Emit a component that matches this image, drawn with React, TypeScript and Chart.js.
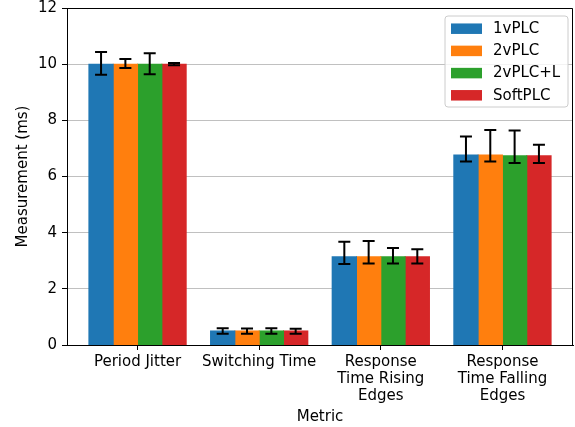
import React, { useEffect, useRef } from "react";
import { Chart, registerables } from "chart.js";

Chart.register(...registerables);

// ---- data ----
const categories: string[][] = [
  ["Period Jitter"],
  ["Switching Time"],
  ["Response", "Time Rising", "Edges"],
  ["Response", "Time Falling", "Edges"],
];
const seriesNames = ["1vPLC", "2vPLC", "2vPLC+L", "SoftPLC"];
const seriesColors = ["#1f77b4", "#ff7f0e", "#2ca02c", "#d62728"];

const values1vPLC = [10.0, 0.5, 3.14, 6.77];
const values2vPLC = [10.0, 0.5, 3.14, 6.77];
const values2vPLCL = [10.0, 0.5, 3.14, 6.74];
const valuesSoftPLC = [10.0, 0.5, 3.14, 6.74];

const errHigh1vPLC = [0.43, 0.1, 0.54, 0.65];
const errLow1vPLC = [0.38, 0.1, 0.26, 0.24];
const errHigh2vPLC = [0.18, 0.09, 0.56, 0.89];
const errLow2vPLC = [0.14, 0.1, 0.24, 0.24];
const errHigh2vPLCL = [0.39, 0.1, 0.31, 0.9];
const errLow2vPLCL = [0.36, 0.1, 0.24, 0.26];
const errHighSoftPLC = [0.04, 0.08, 0.27, 0.39];
const errLowSoftPLC = [0.04, 0.1, 0.24, 0.26];

const yMin = 0;
const yMax = 12;
const yStep = 2;

const allValues = [values1vPLC, values2vPLC, values2vPLCL, valuesSoftPLC];
const allErrHigh = [errHigh1vPLC, errHigh2vPLC, errHigh2vPLCL, errHighSoftPLC];
const allErrLow = [errLow1vPLC, errLow2vPLC, errLow2vPLCL, errLowSoftPLC];

const FONT = "DejaVu Sans";

const errorBarPlugin = {
  id: "errorBars",
  afterDatasetsDraw(chart: any) {
    const ctx = chart.ctx;
    const y = chart.scales.y;
    chart.data.datasets.forEach((ds: any, di: number) => {
      const meta = chart.getDatasetMeta(di);
      meta.data.forEach((bar: any, i: number) => {
        const v = ds.data[i].y;
        const yTop = y.getPixelForValue(v + ds.errHigh[i]);
        const yBot = y.getPixelForValue(v - ds.errLow[i]);
        const x = bar.x;
        ctx.save();
        ctx.strokeStyle = "#000";
        ctx.lineWidth = 2;
        ctx.beginPath();
        ctx.moveTo(x, yTop);
        ctx.lineTo(x, yBot);
        ctx.moveTo(x - 6, yTop);
        ctx.lineTo(x + 6, yTop);
        ctx.moveTo(x - 6, yBot);
        ctx.lineTo(x + 6, yBot);
        ctx.stroke();
        ctx.restore();
      });
    });
  },
};

const framePlugin = {
  id: "frame",
  afterDraw(chart: any) {
    const ctx = chart.ctx;
    const a = chart.chartArea;
    ctx.save();
    ctx.strokeStyle = "#000";
    ctx.lineWidth = 1;
    ctx.beginPath();
    const t = Math.round(a.top) + 0.5;
    const r = Math.round(a.right) - 0.5;
    ctx.moveTo(Math.round(a.left) + 0.5, t);
    ctx.lineTo(r, t);
    ctx.lineTo(r, Math.round(a.bottom) + 0.5);
    ctx.stroke();

    // legend
    const boxRight = a.right - 5;
    const boxLeft = boxRight - 123;
    const boxTop = a.top + 8;
    const boxH = 91;
    const rad = 3;
    ctx.beginPath();
    ctx.moveTo(boxLeft + rad, boxTop);
    ctx.lineTo(boxRight - rad, boxTop);
    ctx.arcTo(boxRight, boxTop, boxRight, boxTop + rad, rad);
    ctx.lineTo(boxRight, boxTop + boxH - rad);
    ctx.arcTo(boxRight, boxTop + boxH, boxRight - rad, boxTop + boxH, rad);
    ctx.lineTo(boxLeft + rad, boxTop + boxH);
    ctx.arcTo(boxLeft, boxTop + boxH, boxLeft, boxTop + boxH - rad, rad);
    ctx.lineTo(boxLeft, boxTop + rad);
    ctx.arcTo(boxLeft, boxTop, boxLeft + rad, boxTop, rad);
    ctx.closePath();
    ctx.fillStyle = "rgba(255,255,255,0.8)";
    ctx.fill();
    ctx.strokeStyle = "#cccccc";
    ctx.stroke();

    ctx.font = `15px '${FONT}'`;
    ctx.textBaseline = "middle";
    ctx.textAlign = "left";
    chart.data.datasets.forEach((ds: any, i: number) => {
      const cy = boxTop + 12.7 + i * 22.2;
      ctx.fillStyle = ds.backgroundColor;
      ctx.fillRect(boxLeft + 6, cy - 5.25, 31, 10.5);
      ctx.fillStyle = "#000";
      ctx.fillText(ds.label, boxLeft + 48, cy + 0.5);
    });
    ctx.restore();
  },
};

export default function App() {
  const ref = useRef<HTMLCanvasElement>(null);

  useEffect(() => {
    document.body.style.margin = "0";
    const canvas = ref.current!;
    const datasets = seriesNames.map((name, si) => ({
      label: name,
      data: allValues[si].map((v, i) => ({ x: i, y: v })),
      errHigh: allErrHigh[si],
      errLow: allErrLow[si],
      backgroundColor: seriesColors[si],
      borderColor: seriesColors[si],
      borderWidth: 0,
      inflateAmount: 0.5,
      categoryPercentage: 0.8,
      barPercentage: 1.0,
    }));

    const chart = new Chart(canvas, {
      type: "bar",
      data: { datasets: datasets as any },
      plugins: [errorBarPlugin, framePlugin],
      options: {
        animation: false,
        responsive: false,
        maintainAspectRatio: false,
        devicePixelRatio: 1,
        events: [],
        layout: { padding: { top: 8, right: 2, left: 0, bottom: 0 } },
        plugins: {
          legend: { display: false },
          tooltip: { enabled: false },
        },
        scales: {
          x: {
            type: "linear",
            min: -0.58,
            max: 3.58,
            offset: false,
            afterBuildTicks: (scale: any) => {
              scale.ticks = categories.map((_, i) => ({ value: i }));
            },
            afterFit: (scale: any) => {
              scale.height = 82;
            },
            ticks: {
              autoSkip: false,
              maxRotation: 0,
              minRotation: 0,
              padding: 4,
              color: "#000",
              font: { family: FONT, size: 15, lineHeight: 1.113 },
              callback: (value: any) => categories[Math.round(Number(value))] ?? "",
            },
            grid: {
              display: true,
              offset: false,
              drawOnChartArea: false,
              drawTicks: true,
              tickLength: 5,
              tickColor: "#000",
              color: "#000",
            },
            border: { display: true, color: "#000", width: 1 },
            title: {
              display: true,
              text: "Metric",
              color: "#000",
              font: { family: FONT, size: 15, lineHeight: 1.2 },
              padding: { top: 0, bottom: 1 },
            },
          },
          y: {
            type: "linear",
            min: yMin,
            max: yMax,
            afterFit: (scale: any) => {
              scale.width = 67;
            },
            ticks: {
              stepSize: yStep,
              padding: 5,
              color: "#000",
              font: { family: FONT, size: 15, lineHeight: 0.3 },
            },
            grid: {
              color: "#c0c0c0",
              lineWidth: 1,
              drawTicks: true,
              tickLength: 5,
              tickColor: "#000",
            },
            border: { display: true, color: "#000", width: 1 },
            title: {
              display: true,
              text: "Measurement (ms)",
              color: "#000",
              font: { family: FONT, size: 15, lineHeight: 1.2 },
              padding: { top: 14, bottom: 0 },
            },
          },
        },
      } as any,
    });
    return () => chart.destroy();
  }, []);

  return (
    <canvas
      ref={ref}
      width={575}
      height={427}
      style={{ display: "block", width: 575, height: 427 }}
    />
  );
}
